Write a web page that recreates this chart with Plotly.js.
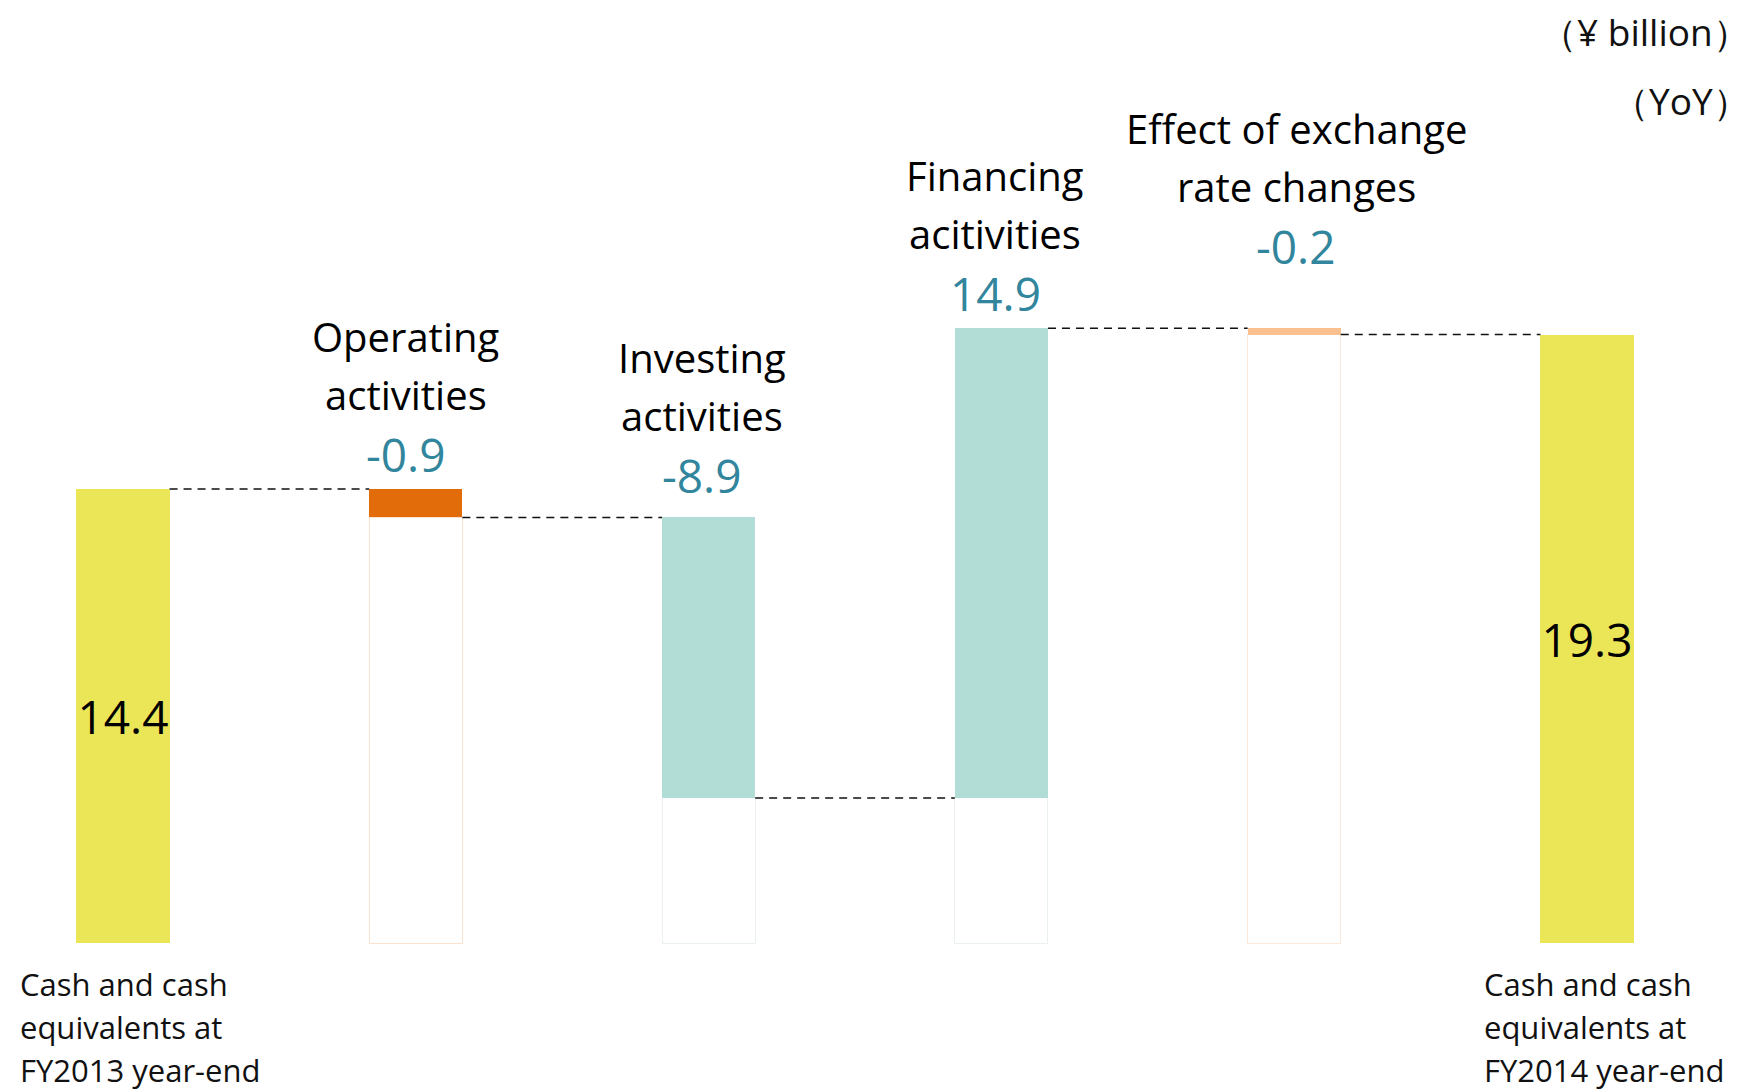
<!DOCTYPE html>
<html>
<head>
<meta charset="utf-8">
<script src="https://cdn.plot.ly/plotly-3.0.1.min.js"></script>
<style>html,body{margin:0;padding:0;background:#fff;}#chart{width:1752px;height:1092px;}</style>
</head>
<body>
<div id="chart"></div>
<script>
// ---- data ----
const categories = [
  "Cash and cash equivalents at FY2013 year-end",
  "Operating activities",
  "Investing activities",
  "Financing acitivities",
  "Effect of exchange rate changes",
  "Cash and cash equivalents at FY2014 year-end"
];
const categoryLines = [
  ["Cash and cash", "equivalents at", "FY2013 year-end"],
  ["Operating", "activities"],
  ["Investing", "activities"],
  ["Financing", "acitivities"],
  ["Effect of exchange", "rate changes"],
  ["Cash and cash", "equivalents at", "FY2014 year-end"]
];
const openingCash = 14.4;
const changes = [-0.9, -8.9, 14.9, -0.2];
const closingCash = 19.3;
const unitLabel = "（¥ billion）";
const periodLabel = "（YoY）";

// ---- styles ----
const FONT = "Open Sans, Noto Sans, sans-serif";
const barColors = ["#EBE658", "#E36C0A", "#B2DCD6", "#B2DCD6", "#FAC08F", "#EBE658"];
const baseOutline = ["#ffffff", "#FCE3CF", "#EAF0F0", "#EAF0F0", "#FCE8D8", "#ffffff"];
const valueColor = "#31859C";
const BAR_W = 0.318;
const labelGap = [0, 35, 42, 35, 82, 0];     // px above bar top for the value line
const labelShiftX = [0, -10, -7, -6, 2, 0];  // px horizontal nudge of labels

// ---- derived waterfall geometry ----
const r1 = v => Math.round(v * 10) / 10;
const baseY = [null], deltaY = [openingCash], tops = [openingCash], levels = [openingCash];
let running = openingCash;
changes.forEach(c => {
  const after = running + c;
  baseY.push(r1(Math.min(running, after)));
  deltaY.push(Math.abs(c));
  tops.push(r1(Math.max(running, after)));
  levels.push(r1(after));
  running = after;
});
baseY.push(null); deltaY.push(closingCash); tops.push(closingCash); levels.push(closingCash);

const endText = categories.map((c, i) => (i === 0 ? openingCash.toFixed(1) : i === categories.length - 1 ? closingCash.toFixed(1) : ""));

const traces = [
  {
    type: "bar", x: categories, y: baseY, width: BAR_W,
    marker: { color: "#ffffff", line: { color: baseOutline, width: 1 } },
    hoverinfo: "skip", showlegend: false
  },
  {
    type: "bar", x: categories, y: deltaY, width: BAR_W,
    marker: { color: barColors, line: { width: 0 } },
    text: endText, textposition: "inside", insidetextanchor: "middle",
    textangle: 0, constraintext: "none",
    textfont: { family: FONT, size: 46, color: "#000000" },
    hoverinfo: "skip", showlegend: false
  }
];

const shapes = [];
for (let i = 0; i < categories.length - 1; i++) {
  shapes.push({
    type: "line", xref: "x", yref: "y",
    x0: i + BAR_W / 2, x1: i + 1 - BAR_W / 2, y0: levels[i], y1: levels[i],
    line: { color: "#111111", width: 1.5, dash: "8px,6px" }
  });
}

const annotations = [];
categories.forEach((c, i) => {
  const lines = categoryLines[i];
  if (i === 0 || i === categories.length - 1) {
    const shifts = [-41, -84, -127];
    lines.forEach((t, k) => annotations.push({
      x: c, y: 0, xref: "x", yref: "y", text: t, showarrow: false,
      xanchor: "left", yanchor: "middle", xshift: -105, yshift: shifts[k],
      font: { family: FONT, size: 31, color: "#111111" }
    }));
  } else {
    const g = labelGap[i], sx = labelShiftX[i];
    annotations.push({
      x: c, y: tops[i], xref: "x", yref: "y", text: changes[i - 1].toFixed(1),
      showarrow: false, xanchor: "center", yanchor: "middle", yshift: g, xshift: sx,
      font: { family: FONT, size: 46, color: valueColor }
    });
    annotations.push({
      x: c, y: tops[i], xref: "x", yref: "y", text: lines[1],
      showarrow: false, xanchor: "center", yanchor: "middle", yshift: g + 60, xshift: sx,
      font: { family: FONT, size: 40, color: "#000000" }
    });
    annotations.push({
      x: c, y: tops[i], xref: "x", yref: "y", text: lines[0],
      showarrow: false, xanchor: "center", yanchor: "middle", yshift: g + 118, xshift: sx,
      font: { family: FONT, size: 40, color: "#000000" }
    });
  }
});
annotations.push({
  x: 1, y: 1 - 31 / 1092, xref: "paper", yref: "paper", text: unitLabel, showarrow: false,
  xanchor: "right", yanchor: "middle", xshift: 0,
  font: { family: FONT, size: 37, color: "#111111" }
});
annotations.push({
  x: 1, y: 1 - 100 / 1092, xref: "paper", yref: "paper", text: periodLabel, showarrow: false,
  xanchor: "right", yanchor: "middle", xshift: 0,
  font: { family: FONT, size: 37, color: "#111111" }
});

const pxPerUnit = 454 / openingCash;
const basePx = 943, H = 1092, W = 1752;
const spacing = 292.8, firstCenter = 123;

const layout = {
  width: W, height: H,
  margin: { l: 0, r: 0, t: 0, b: 0, pad: 0 },
  paper_bgcolor: "#ffffff", plot_bgcolor: "#ffffff",
  barmode: "stack",
  showlegend: false,
  xaxis: {
    type: "category", categoryorder: "array", categoryarray: categories,
    range: [-firstCenter / spacing, -firstCenter / spacing + W / spacing],
    showticklabels: false, showgrid: false, zeroline: false, showline: false, ticks: "",
    fixedrange: true
  },
  yaxis: {
    range: [-(H - basePx) / pxPerUnit, basePx / pxPerUnit],
    showticklabels: false, showgrid: false, zeroline: false, showline: false, ticks: "",
    fixedrange: true
  },
  shapes: shapes,
  annotations: annotations,
  font: { family: FONT }
};

Plotly.newPlot("chart", traces, layout, { staticPlot: true, displayModeBar: false });
</script>
</body>
</html>
